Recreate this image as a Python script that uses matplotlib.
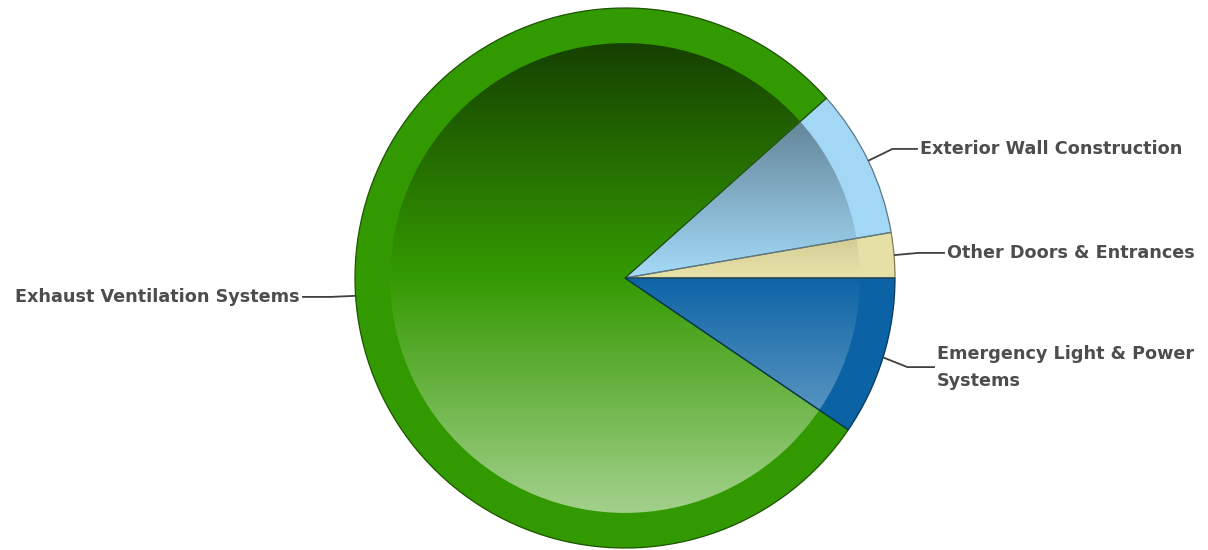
import numpy as np
import matplotlib
matplotlib.use("Agg")
import matplotlib.pyplot as plt
from matplotlib.patches import Circle
from matplotlib.colors import to_rgb

# slices, counter-clockwise from 3 o'clock
categories = ["Other Doors & Entrances", "Exterior Wall Construction",
              "Exhaust Ventilation Systems", "Emergency Light & Power\nSystems"]
shares = [2.7, 8.9, 78.9, 9.5]
colors = ["#e6e0a6", "#a2d8f6", "#339900", "#0b63a5"]

# label anchors (pie radius = 1) and which side the text sits on
label_pos = [(1.193, 0.093), (1.093, 0.478), (-1.204, -0.07), (1.156, -0.33)]
label_side = ["left", "left", "right", "left"]

INNER = 0.87
PX = 270.0  # pixels per unit radius

fig = plt.figure(figsize=(12.08, 5.5), dpi=100)
ax = fig.add_axes([0, 0, 1, 1])


def darker(c, f=0.55):
    r, g, b = to_rgb(c)
    return (r * f, g * f, b * f)


# outer rim
ax.pie(shares, colors=colors, startangle=0, counterclock=True,
       radius=1.0, wedgeprops=dict(linewidth=0))

# inner disc, same slices, shaded with a vertical gloss
ax.pie(shares, colors=colors, startangle=0, counterclock=True,
       radius=INNER, wedgeprops=dict(linewidth=0))

n = 400
t = np.linspace(0, 1, n)
grad = np.zeros((n, 1, 4))
mid = 0.49
top = t < mid
grad[top, 0, 3] = 0.58 * (1 - t[top] / mid)
grad[~top, 0, :3] = 1.0
grad[~top, 0, 3] = 0.55 * (t[~top] - mid) / (1 - mid)
im = ax.imshow(grad, extent=(-INNER, INNER, -INNER, INNER), aspect="auto",
               interpolation="bilinear", zorder=3)
clip = Circle((0, 0), INNER, transform=ax.transData)
im.set_clip_path(clip)

# slice outlines on top of the gloss
outlines, _ = ax.pie(shares, colors=colors, startangle=0, counterclock=True,
                     radius=1.0, wedgeprops=dict(linewidth=0.9, fill=False))
for w, c in zip(outlines, colors):
    w.set_edgecolor(darker(c))
    w.set_zorder(3.5)

# leader lines and labels
cum = np.cumsum([0] + shares)
for i, name in enumerate(categories):
    ang = np.deg2rad(360 * (cum[i] + cum[i + 1]) / 2 / cum[-1])
    ex, ey = np.cos(ang), np.sin(ang)
    lx, ly = label_pos[i]
    sgn = 1 if label_side[i] == "left" else -1
    elbow_x = ex + sgn * 0.09
    end_x = lx - sgn * 0.008
    ax.plot([ex, elbow_x, end_x], [ey, ly, ly], color="#404040", lw=1.3,
            zorder=4, solid_capstyle="butt")
    ax.text(lx, ly, name, ha=label_side[i], va="center", fontsize=12.7,
            fontweight="bold", color="#4d4d4d", linespacing=1.65, zorder=5)

ax.set_xlim(-625 / PX, (1208 - 625) / PX)
ax.set_ylim(-(550 - 278) / PX, 278 / PX)
ax.axis("off")

fig.savefig("out.png", dpi=100, facecolor="white")
